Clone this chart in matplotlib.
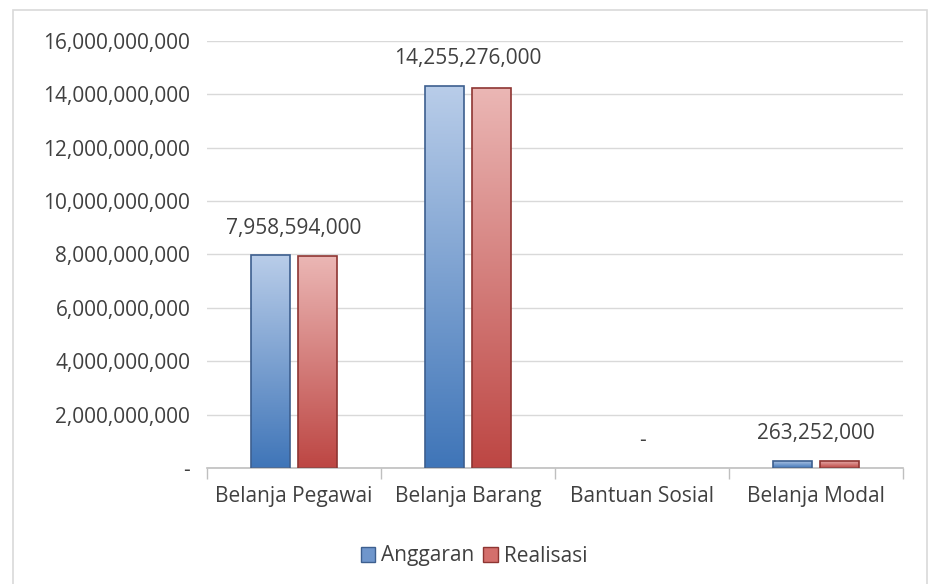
import numpy as np
import matplotlib.pyplot as plt
from matplotlib.colors import LinearSegmentedColormap
from matplotlib.patches import Patch

plt.rcParams['font.family'] = ['Open Sans', 'DejaVu Sans']

categories = ['Belanja Pegawai', 'Belanja Barang', 'Bantuan Sosial', 'Belanja Modal']
anggaran = [7965000000, 14310000000, 0, 270000000]
realisasi = [7958594000, 14255276000, 0, 263252000]
labels = ['7,958,594,000', '14,255,276,000', '-', '263,252,000']
yticks = np.arange(0, 16000000001, 2000000000)

fig = plt.figure(figsize=(9.29, 5.84), dpi=100)
# outer chart border
fig.add_artist(plt.Rectangle((13 / 929, -0.05), 914 / 929, 1.05 - 10 / 584,
                             transform=fig.transFigure, fill=False,
                             edgecolor='#d9d9d9', linewidth=1.2))
ax = fig.add_axes([207 / 929, 1 - 468 / 584, 696 / 929, 427 / 584])

blue_cmap = LinearSegmentedColormap.from_list('b', ['#3f75b8', '#b9cde9'])
red_cmap = LinearSegmentedColormap.from_list('r', ['#bd4643', '#ebb7b5'])

x = np.arange(len(categories))
w = 0.224
gap = 0.046
grad = np.linspace(0, 1, 256).reshape(-1, 1)
fs = 15


def gradient_bars(xs, vals, cmap, edge):
    bars = ax.bar(xs, vals, width=w, facecolor='none', edgecolor=edge, linewidth=1.2, zorder=3)
    for b in bars:
        if b.get_height() <= 0:
            b.set_linewidth(0)
            continue
        bx, by = b.get_x(), b.get_y()
        im = ax.imshow(grad, extent=(bx, bx + b.get_width(), by, by + b.get_height()),
                       origin='lower', aspect='auto', cmap=cmap, zorder=2)
        im.set_clip_path(b)
    return bars


gradient_bars(x - w / 2 - gap / 2, anggaran, blue_cmap, '#3d5f8f')
gradient_bars(x + w / 2 + gap / 2, realisasi, red_cmap, '#8e3532')

# value labels above each group
for i, lab in enumerate(labels):
    top = max(anggaran[i], realisasi[i])
    ax.annotate(lab, (x[i], top), xytext=(0, 12), textcoords='offset points',
                ha='center', va='bottom', fontsize=fs, color='#404040')

ax.set_xlim(-0.5, len(categories) - 0.5)
ax.set_ylim(0, 16000000000)
ax.set_yticks(yticks)
ax.set_yticklabels(['-' if v == 0 else f'{v:,.0f}' for v in yticks])
ax.set_xticks(x)
ax.set_xticklabels(categories)
ax.set_xticks(np.arange(-0.5, len(categories), 1), minor=True)
ax.tick_params(axis='x', which='major', length=0, pad=13, labelsize=fs, labelcolor='#404040')
ax.tick_params(axis='x', which='minor', length=8, color='#bfbfbf', width=1)
ax.tick_params(axis='y', length=0, pad=12, labelsize=fs, labelcolor='#404040')

ax.grid(axis='y', color='#d9d9d9', linewidth=1)
ax.set_axisbelow(True)
for s in ['top', 'right', 'left']:
    ax.spines[s].set_visible(False)
ax.spines['bottom'].set_color('#bfbfbf')
ax.spines['bottom'].set_linewidth(1.2)

handles = [Patch(facecolor='#6f96cc', edgecolor='#3d5f8f', label='Anggaran'),
           Patch(facecolor='#d46f6c', edgecolor='#8e3532', label='Realisasi')]
fig.legend(handles=handles, loc='center', bbox_to_anchor=(474 / 929, 1 - 556 / 584),
           ncol=2, frameon=False, fontsize=fs, labelcolor='#404040',
           handlelength=0.7, handleheight=0.7, handletextpad=0.3, columnspacing=0.4)

fig.savefig('out.png', dpi=100)
